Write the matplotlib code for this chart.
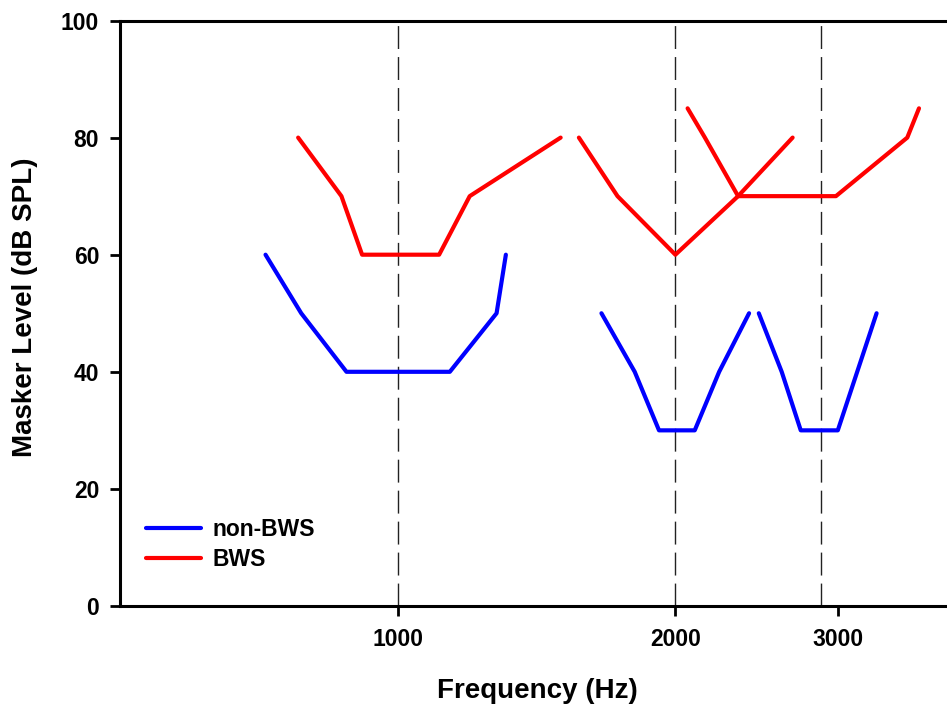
import matplotlib
matplotlib.use("Agg")
import matplotlib.pyplot as plt
from matplotlib.ticker import FixedLocator, NullLocator, FixedFormatter

# Data (frequency in Hz, masker level in dB SPL)
nonbws_1_f = [719, 786, 880, 1139, 1280, 1310]
nonbws_1_y = [60, 50, 40, 40, 50, 60]
nonbws_2_f = [1663, 1807, 1920, 2099, 2231, 2404]
nonbws_2_y = [50, 40, 30, 30, 40, 50]
nonbws_3_f = [2463, 2608, 2735, 3000, 3305]
nonbws_3_y = [50, 40, 30, 30, 50]

bws_1_f = [780, 869, 915, 1109, 1197, 1502]
bws_1_y = [80, 70, 60, 60, 70, 80]
bws_2_f = [1572, 1731, 2000, 2339, 2680]
bws_2_y = [80, 70, 60, 70, 80]
bws_3_f = [2062, 2153, 2339, 2986, 3568, 3674]
bws_3_y = [85, 80, 70, 70, 80, 85]

probe_freqs = [1000, 2000, 2880]
x_ticks = [1000, 2000, 3000]
x_tick_labels = ["1000", "2000", "3000"]
y_ticks = [0, 20, 40, 60, 80, 100]

plt.rcParams['font.family'] = ['Liberation Sans', 'DejaVu Sans']
plt.rcParams['font.weight'] = 'bold'

fig = plt.figure(figsize=(9.47, 7.06), dpi=100)
ax = fig.add_axes([120/947, 1-606/706, 1-120/947, (606-20.5)/706])

blue = '#0000ff'
red = '#ff0000'
lw = 3.0

for f in probe_freqs:
    ax.axvline(f, color='#222222', lw=1.0, dashes=(16.5, 5.8), zorder=1)

ax.plot(nonbws_1_f, nonbws_1_y, color=blue, lw=lw, label='non-BWS', zorder=3, solid_capstyle='round')
ax.plot(nonbws_2_f, nonbws_2_y, color=blue, lw=lw, zorder=3, solid_capstyle='round')
ax.plot(nonbws_3_f, nonbws_3_y, color=blue, lw=lw, zorder=3, solid_capstyle='round')
ax.plot(bws_1_f, bws_1_y, color=red, lw=lw, label='BWS', zorder=3, solid_capstyle='round')
ax.plot(bws_2_f, bws_2_y, color=red, lw=lw, zorder=3, solid_capstyle='round')
ax.plot(bws_3_f, bws_3_y, color=red, lw=lw, zorder=3, solid_capstyle='round')

ax.set_xscale('log')
ax.set_xlim(500, 3940)
ax.set_ylim(0, 100)
ax.xaxis.set_major_locator(FixedLocator(x_ticks))
ax.xaxis.set_major_formatter(FixedFormatter(x_tick_labels))
ax.xaxis.set_minor_locator(NullLocator())
ax.set_yticks(y_ticks)

for s in ['left', 'bottom', 'top']:
    ax.spines[s].set_linewidth(2.2)
ax.spines['right'].set_visible(False)
ax.tick_params(axis='both', direction='out', length=7, width=2.0, labelsize=16.5)
ax.tick_params(axis='x', pad=9)
ax.tick_params(axis='y', pad=8)
for lab in ax.get_xticklabels() + ax.get_yticklabels():
    lab.set_fontweight('bold')

ax.set_xlabel('Frequency (Hz)', fontsize=20, fontweight='bold')
ax.set_ylabel('Masker Level (dB SPL)', fontsize=20, fontweight='bold')
ax.xaxis.set_label_coords((537-120)/827, (606-678)/585.5)
ax.yaxis.set_label_coords((38-120)/827, (606-307)/585.5)

leg = ax.legend(loc='upper left', bbox_to_anchor=((146-120)/827, (606-518)/585.5),
                frameon=False, borderpad=0, borderaxespad=0,
                fontsize=16.5, handlelength=2.4, handletextpad=0.5, labelspacing=0.3)
for t in leg.get_texts():
    t.set_fontweight('bold')

fig.savefig('out.png', dpi=100)
